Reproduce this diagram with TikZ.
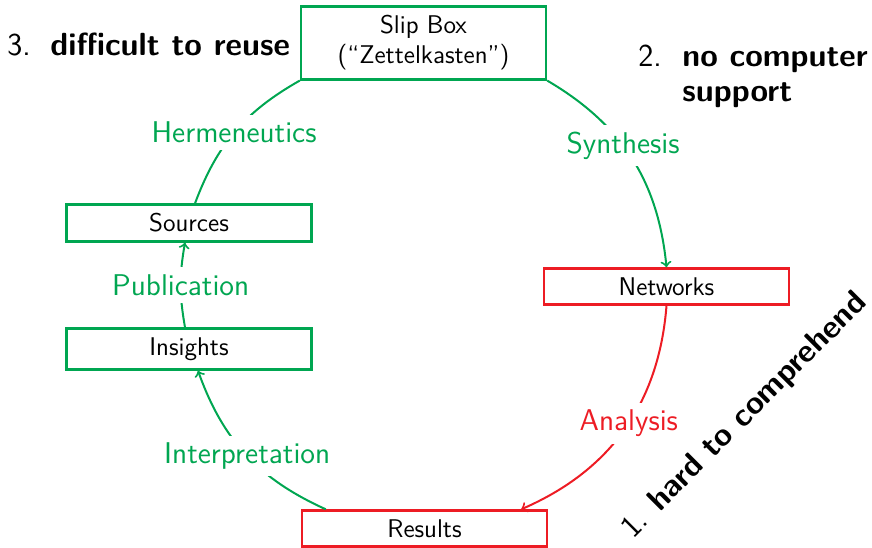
\documentclass[tikz,border=0pt]{standalone}
\definecolor{zgreen}{RGB}{0,166,81}
\definecolor{zred}{RGB}{237,28,36}
\begin{document}
\begin{tikzpicture}[x=0.5pt,y=-0.5pt, font=\sffamily,
  box/.style={draw, line width=1.2pt, minimum width=122.5pt, inner ysep=4.5pt,
    align=center, font=\sffamily\fontsize{12.8}{15}\selectfont},
  gbox/.style={box, draw=zgreen},
  rbox/.style={box, draw=zred},
  link/.style={line width=1pt},
  lbl/.style={fill=white, inner sep=3.5pt, font=\sffamily\fontsize{15}{18}\selectfont},
  issue/.style={inner sep=0pt, font=\sffamily\fontsize{16}{17.5}\selectfont}
]
\useasboundingbox (0,0) rectangle (872,547);

% stages of the research cycle
\node[gbox] (slip) at (423.5,43) {Slip Box\\(“Zettelkasten”)};
\node[rbox] (net) at (666.5,286.5) {Networks};
\node[rbox] (res) at (424.5,528.5) {Results};
\node[gbox] (ins) at (189,349) {Insights};
\node[gbox] (src) at (189,223) {Sources};

% transitions between stages
\draw[link, zgreen, ->] (slip.south east) to[bend left=27]
  node[lbl, text=zgreen, pos=.43] {Synthesis} (net.north);
\draw[link, zred, ->] (net.south) to[bend left=31]
  node[lbl, text=zred, pos=.47] {Analysis} ([xshift=-13.5pt]res.north east);
\draw[link, zgreen, ->] ([xshift=12.5pt]res.north west) to[bend left=23]
  node[lbl, text=zgreen, pos=.49] {Interpretation} ([xshift=4.5pt]ins.south);
\draw[link, zgreen, ->] ([xshift=-2pt]ins.north) to[bend left=10]
  node[lbl, text=zgreen] {Publication} ([xshift=-2pt]src.south);
\draw[link, zgreen] ([xshift=3pt]src.north) to[bend left=20]
  node[lbl, text=zgreen, pos=.49] {Hermeneutics} (slip.south west);

% problems
\node[issue, anchor=base west] (p3) at (7,55)
  {\makebox[21.5pt][l]{3.}\textbf{difficult to reuse}};
\node[issue, anchor=base west] (p2) at (638,66)
  {\begin{tabular}[t]{@{}p{22pt}@{}l@{}}2.&\textbf{no computer}\\&\textbf{support}\end{tabular}};
\node[issue, rotate=45] (p1) at (745,416)
  {\makebox[19pt][l]{1.}\textbf{hard to comprehend}};
\end{tikzpicture}
\end{document}
